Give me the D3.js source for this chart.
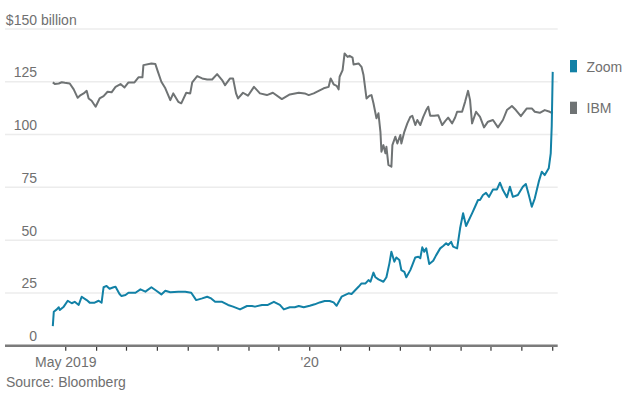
<!DOCTYPE html>
<html>
<head>
<meta charset="utf-8">
<script src="https://cdn.jsdelivr.net/npm/d3@7"></script>
<style>
    body { margin: 0; background: #fff; }
    svg text { font-family: "Liberation Sans", Arial, sans-serif; font-size: 14px; fill: #707070; }
</style>
</head>
<body>
<div id="chart"></div>
<script>
// Market value, $ billion
const zoomSeries = [
    ["2019-04-18", 9.3], ["2019-04-19", 16.1], ["2019-04-22", 17.2], ["2019-04-24", 18.2], ["2019-04-25", 16.9],
    ["2019-04-29", 18.5], ["2019-05-03", 21.3], ["2019-05-07", 20.1], ["2019-05-10", 20.8], ["2019-05-14", 19.3],
    ["2019-05-17", 23.2], ["2019-05-22", 21.6], ["2019-05-25", 20.4], ["2019-05-30", 20.4], ["2019-06-03", 21.3],
    ["2019-06-06", 20.4], ["2019-06-08", 27.7], ["2019-06-11", 28.3], ["2019-06-14", 27.0], ["2019-06-18", 27.7],
    ["2019-06-20", 27.9], ["2019-06-24", 24.5], ["2019-06-26", 23.5], ["2019-06-30", 24.0], ["2019-07-03", 25.1],
    ["2019-07-10", 25.1], ["2019-07-15", 26.7], ["2019-07-20", 25.6], ["2019-07-26", 27.7], ["2019-07-31", 26.0],
    ["2019-08-05", 24.3], ["2019-08-09", 26.0], ["2019-08-14", 25.3], ["2019-08-22", 25.6], ["2019-08-29", 25.6],
    ["2019-09-04", 25.1], ["2019-09-09", 21.6], ["2019-09-15", 22.4], ["2019-09-20", 23.2], ["2019-09-24", 22.4],
    ["2019-09-28", 20.8], ["2019-10-05", 20.8], ["2019-10-11", 19.3], ["2019-10-16", 18.5], ["2019-10-23", 17.2],
    ["2019-10-30", 18.8], ["2019-11-04", 18.8], ["2019-11-07", 18.5], ["2019-11-14", 19.3], ["2019-11-20", 19.3],
    ["2019-11-26", 20.8], ["2019-12-02", 19.3], ["2019-12-06", 17.2], ["2019-12-12", 18.2], ["2019-12-17", 18.2],
    ["2019-12-21", 18.8], ["2019-12-26", 18.2], ["2020-01-01", 18.9], ["2020-01-06", 19.6], ["2020-01-11", 20.5],
    ["2020-01-16", 21.2], ["2020-01-21", 21.2], ["2020-01-25", 20.5], ["2020-01-28", 18.9], ["2020-02-02", 23.2],
    ["2020-02-09", 24.8], ["2020-02-12", 24.5], ["2020-02-19", 27.9], ["2020-02-22", 29.5], ["2020-02-26", 29.5],
    ["2020-02-29", 31.1], ["2020-03-02", 30.3], ["2020-03-05", 34.6], ["2020-03-07", 32.4], ["2020-03-10", 31.4],
    ["2020-03-15", 30.3], ["2020-03-18", 32.4], ["2020-03-21", 39.0], ["2020-03-23", 44.5], ["2020-03-26", 39.8],
    ["2020-03-28", 41.8], ["2020-03-31", 40.6], ["2020-04-02", 35.8], ["2020-04-05", 35.0], ["2020-04-07", 32.4],
    ["2020-04-11", 35.8], ["2020-04-13", 38.2], ["2020-04-16", 41.8], ["2020-04-19", 42.1], ["2020-04-21", 41.4],
    ["2020-04-23", 46.6], ["2020-04-25", 44.5], ["2020-04-27", 46.1], ["2020-04-30", 38.7], ["2020-05-04", 40.2],
    ["2020-05-07", 42.9], ["2020-05-11", 46.1], ["2020-05-14", 47.2], ["2020-05-17", 48.5], ["2020-05-19", 47.7],
    ["2020-05-22", 49.2], ["2020-05-24", 46.9], ["2020-05-28", 46.1], ["2020-05-31", 55.6], ["2020-06-03", 62.7],
    ["2020-06-06", 56.7], ["2020-06-08", 58.7], ["2020-06-12", 62.7], ["2020-06-15", 65.8], ["2020-06-18", 69.0],
    ["2020-06-20", 69.0], ["2020-06-23", 71.4], ["2020-06-26", 72.4], ["2020-06-29", 70.5], ["2020-07-03", 74.0],
    ["2020-07-07", 74.0], ["2020-07-10", 77.2], ["2020-07-13", 73.7], ["2020-07-17", 70.3], ["2020-07-20", 75.3],
    ["2020-07-23", 70.5], ["2020-07-28", 71.4], ["2020-08-02", 75.3], ["2020-08-05", 76.6], ["2020-08-08", 71.4],
    ["2020-08-11", 65.8], ["2020-08-14", 69.8], ["2020-08-18", 77.7], ["2020-08-21", 82.4], ["2020-08-24", 80.8],
    ["2020-08-28", 84.0], ["2020-08-30", 91.1], ["2020-08-31", 104.0], ["2020-09-01", 129.7]
];

const ibmSeries = [
    ["2019-04-18", 124.7], ["2019-04-20", 124.0], ["2019-04-24", 124.2], ["2019-04-27", 124.8], ["2019-04-30", 124.5],
    ["2019-05-05", 124.2], ["2019-05-09", 121.4], ["2019-05-13", 117.4], ["2019-05-16", 118.7], ["2019-05-19", 119.5],
    ["2019-05-22", 120.7], ["2019-05-24", 117.1], ["2019-05-27", 116.0], ["2019-05-31", 113.2], ["2019-06-04", 117.1],
    ["2019-06-08", 118.2], ["2019-06-12", 120.3], ["2019-06-16", 120.0], ["2019-06-20", 122.6], ["2019-06-25", 123.9],
    ["2019-06-29", 122.3], ["2019-07-03", 124.7], ["2019-07-09", 124.7], ["2019-07-13", 127.1], ["2019-07-17", 127.1],
    ["2019-07-18", 132.9], ["2019-07-26", 133.7], ["2019-07-30", 133.4], ["2019-08-01", 130.5], ["2019-08-05", 125.0],
    ["2019-08-09", 121.9], ["2019-08-14", 116.3], ["2019-08-17", 119.5], ["2019-08-22", 115.5], ["2019-08-25", 114.8],
    ["2019-08-30", 119.8], ["2019-09-03", 119.5], ["2019-09-05", 124.7], ["2019-09-10", 127.7], ["2019-09-15", 126.6],
    ["2019-09-20", 126.1], ["2019-09-25", 126.1], ["2019-09-30", 128.6], ["2019-10-05", 125.8], ["2019-10-08", 123.4],
    ["2019-10-13", 126.6], ["2019-10-16", 126.6], ["2019-10-19", 119.5], ["2019-10-21", 117.1], ["2019-10-26", 119.8],
    ["2019-10-31", 118.4], ["2019-11-06", 122.6], ["2019-11-12", 119.5], ["2019-11-19", 118.7], ["2019-11-25", 119.8],
    ["2019-12-04", 116.8], ["2019-12-12", 119.0], ["2019-12-21", 119.8], ["2019-12-27", 119.5], ["2019-12-31", 118.7],
    ["2020-01-05", 119.5], ["2020-01-10", 120.7], ["2020-01-15", 121.9], ["2020-01-20", 122.6], ["2020-01-22", 126.6],
    ["2020-01-25", 123.8], ["2020-01-28", 123.1], ["2020-01-30", 121.4], ["2020-01-31", 127.4], ["2020-02-03", 130.5],
    ["2020-02-05", 138.4], ["2020-02-08", 136.8], ["2020-02-10", 137.3], ["2020-02-13", 136.4], ["2020-02-14", 133.2],
    ["2020-02-19", 133.7], ["2020-02-22", 132.1], ["2020-02-24", 128.2], ["2020-02-27", 117.1], ["2020-03-01", 118.4],
    ["2020-03-03", 118.7], ["2020-03-05", 114.8], ["2020-03-08", 107.7], ["2020-03-10", 110.1], ["2020-03-12", 101.3],
    ["2020-03-13", 91.9], ["2020-03-15", 95.0], ["2020-03-17", 91.1], ["2020-03-18", 94.2], ["2020-03-20", 85.6],
    ["2020-03-23", 84.8], ["2020-03-24", 95.0], ["2020-03-27", 99.0], ["2020-03-29", 95.8], ["2020-04-01", 99.8],
    ["2020-04-02", 95.8], ["2020-04-05", 101.3], ["2020-04-08", 105.3], ["2020-04-11", 108.4], ["2020-04-13", 108.9],
    ["2020-04-16", 104.5], ["2020-04-18", 106.9], ["2020-04-21", 104.5], ["2020-04-24", 108.4], ["2020-04-27", 111.6],
    ["2020-04-29", 113.2], ["2020-05-01", 108.9], ["2020-05-05", 108.9], ["2020-05-09", 109.2], ["2020-05-13", 104.5],
    ["2020-05-16", 106.4], ["2020-05-19", 108.0], ["2020-05-23", 105.3], ["2020-05-26", 108.1], ["2020-05-28", 110.8],
    ["2020-06-02", 110.8], ["2020-06-05", 115.5], ["2020-06-08", 120.7], ["2020-06-10", 116.3], ["2020-06-12", 105.3],
    ["2020-06-16", 110.8], ["2020-06-20", 108.4], ["2020-06-24", 103.4], ["2020-06-28", 106.1], ["2020-07-03", 106.9],
    ["2020-07-08", 103.4], ["2020-07-13", 106.9], ["2020-07-17", 111.6], ["2020-07-22", 113.5], ["2020-07-26", 111.6],
    ["2020-07-31", 108.7], ["2020-08-06", 112.4], ["2020-08-11", 112.4], ["2020-08-14", 110.8], ["2020-08-19", 110.3],
    ["2020-08-24", 111.6], ["2020-08-29", 110.8], ["2020-09-01", 110.0]
];

const seriesNames = ["Zoom", "IBM"];
const seriesColors = ["#1281a6", "#6f7374"];
const yTicks = [0, 25, 50, 75, 100, 125, 150];
const xDomain = ["2019-03-01", "2020-09-06"];
const xLabels = [["2019-05-01", "May 2019"], ["2020-01-01", "'20"]];
const sourceText = "Source: Bloomberg";

const parseDate = d3.timeParse("%Y-%m-%d");

class LineChart {
    constructor(_config) {
        this.config = _config;
        this.initVis();
    }

    initVis() {
        let vis = this;

        vis.svg = d3.select("#chart")
            .append("svg")
                .attr("width", vis.config.width)
                .attr("height", vis.config.height);

        vis.xScale = d3.scaleTime()
            .domain(xDomain.map(parseDate))
            .range([5, 557.7]);

        vis.yScale = d3.scaleLinear()
            .domain([0, 150])
            .range([345.7, 29]);

        vis.series = [
            { name: seriesNames[0], color: seriesColors[0], values: zoomSeries },
            { name: seriesNames[1], color: seriesColors[1], values: ibmSeries }
        ];

        vis.renderVis();
    }

    renderVis() {
        let vis = this;
        const [x0, x1] = vis.xScale.range();
        const labelX = 37;

        // Gridlines (the zero line is drawn as the axis below)
        vis.svg.append("g")
            .selectAll("line")
            .data(yTicks.filter(d => d > 0))
            .join("line")
                .attr("x1", x0)
                .attr("x2", x1)
                .attr("y1", d => vis.yScale(d))
                .attr("y2", d => vis.yScale(d))
                .attr("stroke", "#ececec")
                .attr("stroke-width", 1.5);

        // Y labels sit just above their gridline, right aligned
        const yLabels = vis.svg.append("g");
        yTicks.forEach(t => {
            const text = yLabels.append("text")
                .attr("y", vis.yScale(t) - 4.5);
            if (t === d3.max(yTicks)) {
                // "$150" lines up with the other numbers, " billion" hangs to the right
                text.text("$" + t);
                const w = text.node().getComputedTextLength();
                text.attr("x", labelX - w).text("$" + t + " billion");
            } else {
                text.attr("x", labelX).attr("text-anchor", "end").text(t);
            }
        });

        // Lines, IBM underneath Zoom
        const line = d3.line()
            .x(d => vis.xScale(parseDate(d[0])))
            .y(d => vis.yScale(d[1]));

        vis.svg.append("g")
            .selectAll("path")
            .data(vis.series.slice().reverse())
            .join("path")
                .attr("d", d => line(d.values))
                .attr("fill", "none")
                .attr("stroke", d => d.color)
                .attr("stroke-width", 2)
                .attr("stroke-linejoin", "round");

        // X axis: baseline with monthly ticks
        const months = d3.timeMonth.range(parseDate("2019-05-01"), vis.xScale.domain()[1]);
        const axis = vis.svg.append("g");
        axis.selectAll("line.tick")
            .data(months)
            .join("line")
                .attr("class", "tick")
                .attr("x1", d => vis.xScale(d))
                .attr("x2", d => vis.xScale(d))
                .attr("y1", vis.yScale(0))
                .attr("y2", vis.yScale(0) + 5)
                .attr("stroke", "#333")
                .attr("stroke-width", 1.2);
        axis.append("line")
            .attr("x1", x0)
            .attr("x2", x1)
            .attr("y1", vis.yScale(0))
            .attr("y2", vis.yScale(0))
            .attr("stroke", "#7b7b7b")
            .attr("stroke-width", 2.5);

        axis.selectAll("text")
            .data(xLabels)
            .join("text")
                .attr("x", d => vis.xScale(parseDate(d[0])))
                .attr("y", 367)
                .attr("text-anchor", "middle")
                .text(d => d[1]);

        // Legend
        const legend = vis.svg.append("g")
            .selectAll("g")
            .data(vis.series)
            .join("g")
                .attr("transform", (d, i) => `translate(570, ${60 + i * 41.7})`);
        legend.append("rect")
            .attr("width", 7)
            .attr("height", 12.3)
            .attr("fill", d => d.color);
        legend.append("text")
            .attr("x", 16.5)
            .attr("y", 11.7)
            .text(d => d.name);

        vis.svg.append("text")
            .attr("x", 6)
            .attr("y", 387)
            .text(sourceText);
    }
}

new LineChart({ width: 627, height: 397 });
</script>
</body>
</html>
